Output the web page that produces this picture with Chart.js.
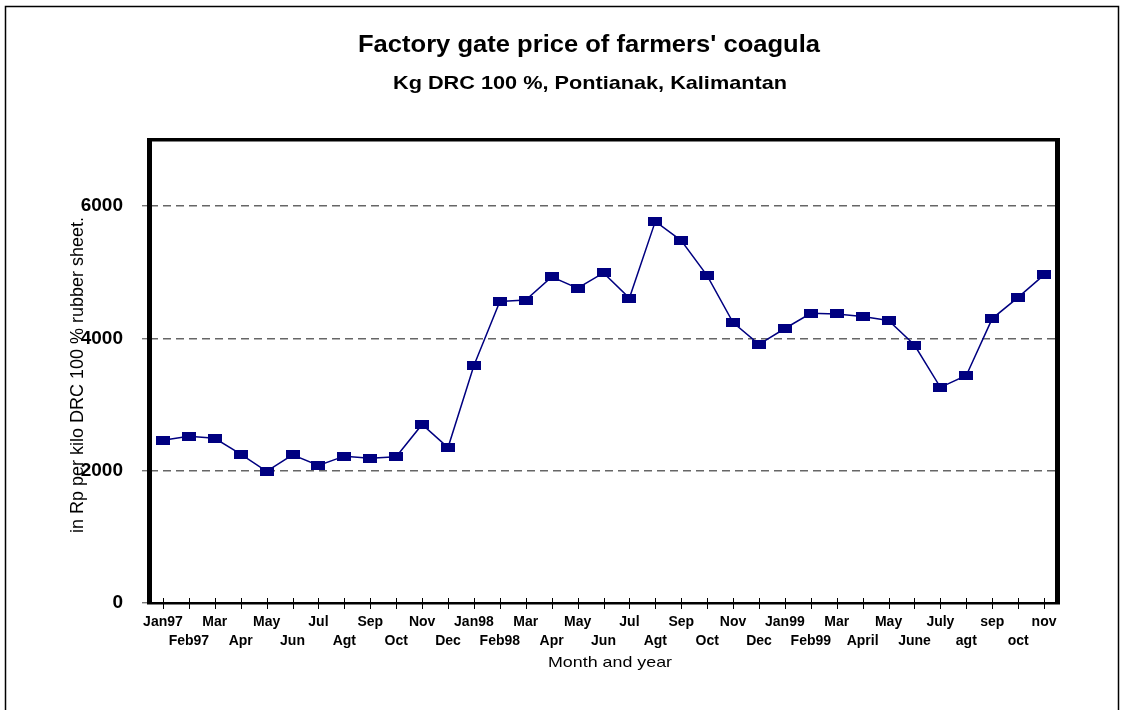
<!DOCTYPE html>
<html>
<head>
<meta charset="utf-8">
<script src="https://cdn.jsdelivr.net/npm/chart.js@4"></script>
<style>
  html, body { margin: 0; padding: 0; background: #fff; }
  #wrap { width: 1121px; height: 710px; }
</style>
</head>
<body>
<div id="wrap"><canvas id="c" width="1121" height="710"></canvas></div>
<script>
const months = ['Jan97','Feb97','Mar','Apr','May','Jun','Jul','Agt','Sep','Oct','Nov','Dec',
  'Jan98','Feb98','Mar','Apr','May','Jun','Jul','Agt','Sep','Oct','Nov','Dec',
  'Jan99','Feb99','Mar','April','May','June','July','agt','sep','oct','nov'];
const prices = [2460,2520,2490,2250,1990,2240,2080,2220,2190,2210,2700,2350,
  3590,4560,4580,4930,4760,4990,4610,5770,5480,4950,4240,3910,
  4150,4380,4370,4330,4270,3900,3260,3440,4300,4620,4960];
const yTickValues = [0, 2000, 4000, 6000];
const titleText = "Factory gate price of farmers' coagula";
const subtitleText = "Kg DRC 100 %, Pontianak, Kalimantan";
const yTitleText = "in Rp per kilo DRC 100 % rubber sheet.";
const xTitleText = "Month and year";

// staggered two-row labels
const staggered = months.map((m, i) => i % 2 === 0 ? [m] : ['', m]);

// rectangular marker
const marker = document.createElement('canvas');
marker.width = 14; marker.height = 9;
(function(){ const g = marker.getContext('2d'); g.fillStyle = '#000080'; g.fillRect(0,0,14,9); })();

const FONT = "'Liberation Sans', Arial, sans-serif";

function stretchedText(ctx, text, cx, by, font, width) {
  ctx.save();
  ctx.font = font;
  const w = ctx.measureText(text).width;
  const s = width / w;
  ctx.translate(cx, by);
  ctx.scale(s, 1);
  ctx.textAlign = 'center';
  ctx.textBaseline = 'alphabetic';
  ctx.fillText(text, 0, 0);
  ctx.restore();
}

const decor = {
  id: 'decor',
  beforeDatasetsDraw(chart) {
    const {ctx, chartArea: a, scales} = chart;
    ctx.save();
    // x tick crosses
    ctx.strokeStyle = '#000'; ctx.lineWidth = 1;
    months.forEach((m, i) => {
      const x = Math.round(scales.x.getPixelForValue(i)) + 0.5;
      ctx.beginPath(); ctx.moveTo(x, a.bottom - 5); ctx.lineTo(x, a.bottom + 6); ctx.stroke();
    });
    // plot border
    ctx.fillStyle = '#000';
    ctx.fillRect(a.left - 3, a.top - 2, a.right - a.left + 6, 3.5);   // top
    ctx.fillRect(a.left - 3, a.top - 2, 5, a.bottom - a.top + 3);   // left
    ctx.fillRect(a.right - 2, a.top - 2, 5, a.bottom - a.top + 3);  // right
    ctx.fillRect(a.left - 3, a.bottom - 1, a.right - a.left + 6, 2.5); // bottom
    ctx.restore();
  },
  afterDraw(chart) {
    const {ctx} = chart;
    ctx.save();
    // outer frame
    ctx.strokeStyle = '#000'; ctx.lineWidth = 1.5;
    ctx.strokeRect(5.5, 6.5, 1113, 800);
    ctx.fillStyle = '#000';
    stretchedText(ctx, titleText, 589, 52, "bold 24px " + FONT, 462);
    stretchedText(ctx, subtitleText, 590, 89, "bold 19px " + FONT, 394);
    stretchedText(ctx, xTitleText, 610, 667, "15px " + FONT, 124);
    // y title (overlapping tick labels as in the original)
    ctx.translate(83, 375);
    ctx.rotate(-Math.PI / 2);
    ctx.font = "18px " + FONT;
    ctx.textAlign = 'center';
    ctx.fillText(yTitleText, 0, 0);
    ctx.restore();
  }
};

new Chart(document.getElementById('c'), {
  type: 'line',
  data: {
    labels: staggered,
    datasets: [{
      data: prices,
      borderColor: '#000080',
      borderWidth: 1.5,
      backgroundColor: '#000080',
      pointStyle: marker,
      pointRadius: 7,
      tension: 0,
      fill: false
    }]
  },
  options: {
    responsive: false,
    animation: false,
    devicePixelRatio: 1,
    layout: { padding: { left: 0, right: 64, top: 140, bottom: 47 } },
    plugins: { legend: { display: false }, tooltip: { enabled: false }, title: { display: false } },
    scales: {
      x: {
        type: 'category',
        offset: true,
        grid: { display: true, drawOnChartArea: false, drawTicks: false, color: 'transparent' },
        border: { display: false },
        ticks: {
          autoSkip: false, maxRotation: 0, minRotation: 0, padding: 9,
          color: '#000',
          font: { family: FONT, size: 14, weight: 'bold', lineHeight: 1.4 }
        },
        afterFit(s) { s.height = 60; }
      },
      y: {
        min: 0, max: 7000,
        afterBuildTicks(s) { s.ticks = yTickValues.map(v => ({ value: v })); },
        grid: {
          color: (c) => (c.tick && c.tick.value === 0) ? 'rgba(0,0,0,0)' : '#666',
          lineWidth: 1.4,
          tickLength: 8,
          tickColor: '#777',
          tickBorderDash: []
        },
        border: { display: false, dash: [8, 5] },
        ticks: {
          padding: 19,
          color: '#000',
          font: { family: FONT, size: 19, weight: 'bold' },
          callback: (v) => String(v)
        },
        afterFit(s) { s.width = 150; }
      }
    }
  },
  plugins: [decor]
});
</script>
</body>
</html>
